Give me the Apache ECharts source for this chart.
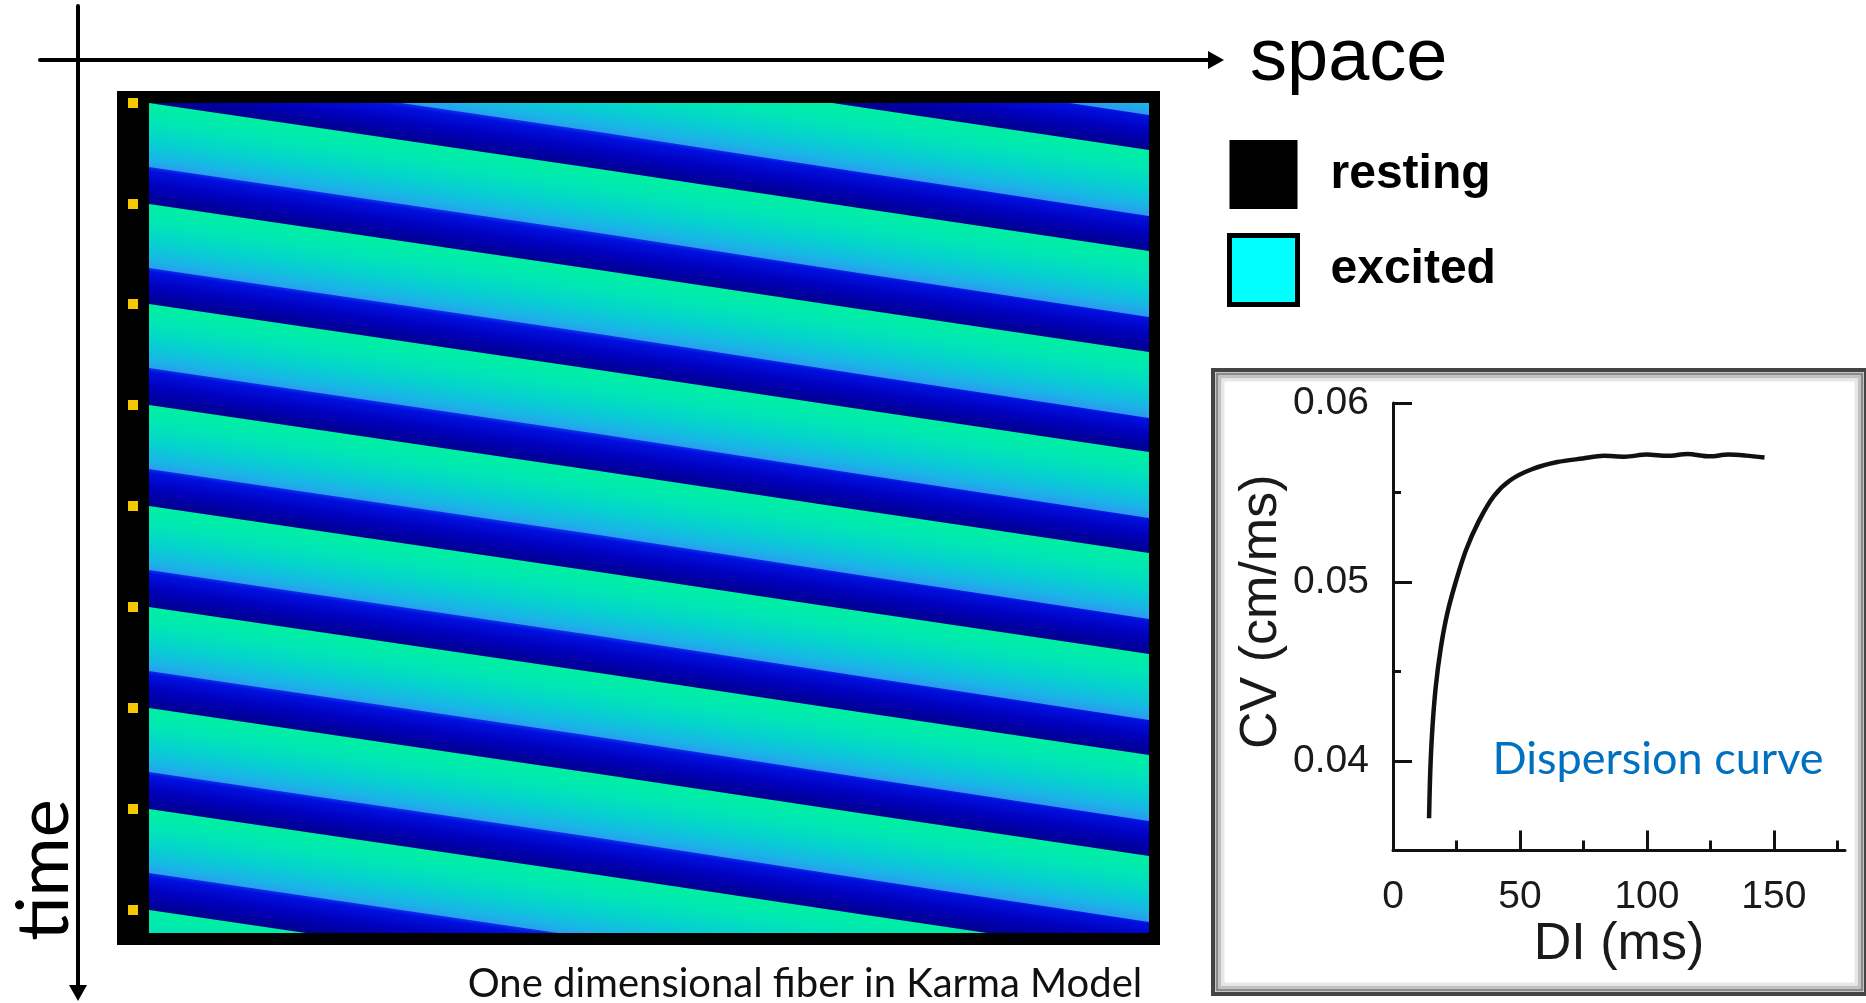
<!DOCTYPE html>
<html>
<head>
<meta charset="utf-8">
<title>One dimensional fiber in Karma Model</title>
<script src="https://cdn.jsdelivr.net/npm/echarts@6.0.0/dist/echarts.min.js"></script>
<style>
  html, body { margin: 0; padding: 0; background: #fff; }
  #chart { width: 1866px; height: 1003px; }
</style>
</head>
<body>
<div id="chart"></div>
<script>
// stimuli marked on the left edge of the fiber (time in plot rows)
const stimTimes = [0, 101, 201, 302, 403, 504, 605, 706, 807];
// wave fronts entering cell 0, two of them before the window starts
const beatTimes = [-202, -101, 0, 101, 201, 302, 403, 504, 605, 706, 807, 908];
// front delay along the fiber and how long each cell stays excited
const fiberCells = [0, 450, 710, 1000];
const frontDelay = [0, 66, 105, 148];
const excitedDur = [64, 64, 65, 66];

// dispersion curve
const diMs = [14.2, 14.7, 15.5, 16.8, 18.8, 21.3, 24.7, 28.8, 33.8, 39.7, 46.3, 54.7, 64.7, 74.7,
  83, 91.3, 100, 108, 116, 124.7, 132, 139, 146.3];
const cvCmMs = [0.0368, 0.0395, 0.0418, 0.0441, 0.0463, 0.0482, 0.0500, 0.0518, 0.0534, 0.0548,
  0.0557, 0.0563, 0.0567, 0.0569, 0.05705, 0.0570, 0.05712, 0.05705, 0.05715, 0.05702, 0.05712, 0.05706, 0.05695];
const diTicks = [0, 50, 100, 150];
const diMinorTicks = [25, 75, 125, 175];
const cvTicks = [0.04, 0.05, 0.06];
const cvMinorTicks = [0.045, 0.055];

const chart = echarts.init(document.getElementById("chart"));

const excitedStops = [
  { offset: 0, color: "#00F0A0" },
  { offset: 0.3, color: "#00E6B6" },
  { offset: 0.62, color: "#06D0D0" },
  { offset: 0.88, color: "#1AB4E8" },
  { offset: 1, color: "#2A9CEE" },
];
const restStops = [
  { offset: 0, color: "#0A30EA" },
  { offset: 0.1, color: "#0010E0" },
  { offset: 0.5, color: "#0000BE" },
  { offset: 1, color: "#00008E" },
];

function renderWave(params, api) {
  const t0 = api.value(0);
  const t1 = api.value(1);
  const front = fiberCells.map((s, i) => api.coord([s, t0 + frontDelay[i]]));
  const back = fiberCells.map((s, i) => api.coord([s, t0 + frontDelay[i] + excitedDur[i]]));
  const next = fiberCells.map((s, i) => api.coord([s, t1 + frontDelay[i]]));
  const a = front[0];
  const b = front[front.length - 1];
  const dx = b[0] - a[0];
  const dy = b[1] - a[1];
  const len = Math.hypot(dx, dy);
  const nx = -dy / len;
  const ny = dx / len;
  // gradient runs across the slanted band
  const grad = (p, h, stops) => {
    const d = h * (dx / len);
    return new echarts.graphic.LinearGradient(p[0], p[1], p[0] + nx * d, p[1] + ny * d, stops, true);
  };
  const restPts = back.map((p) => [p[0], p[1] - 1])
    .concat(next.slice().reverse().map((p) => [p[0], p[1] + 1]));
  const excPts = front.concat(back.slice().reverse());
  return {
    type: "group",
    children: [
      { type: "polygon", shape: { points: restPts }, style: { fill: grad(back[0], next[0][1] - back[0][1], restStops) } },
      { type: "polygon", shape: { points: excPts }, style: { fill: grad(front[0], back[0][1] - front[0][1], excitedStops) } },
    ],
  };
}

const hidden = { show: false };
const axisFont = { fontFamily: "Liberation Sans", color: "#1a1a1a" };

const option = {
  backgroundColor: "#fff",
  animation: false,
  legend: {
    orient: "vertical",
    left: 1227,
    top: 140,
    padding: 0,
    itemGap: 24,
    itemWidth: 68,
    itemHeight: 69,
    icon: "rect",
    selectedMode: false,
    textStyle: { fontFamily: "Liberation Sans", fontWeight: "bold", fontSize: 48, color: "#000", padding: [0, 0, 0, 28] },
    data: [
      { name: "resting", itemStyle: { color: "#000", opacity: 1 } },
      { name: "excited", itemStyle: { color: "#00FFFF", opacity: 1, borderColor: "#000", borderWidth: 5 } },
    ],
  },
  grid: [
    // 0: inner space-time plot
    { left: 149, top: 103, width: 1000, height: 830 },
    // 1: black frame with stimulus marks
    { left: 117, top: 91, width: 1043, height: 854, show: true, backgroundColor: "#000", borderWidth: 0 },
    // 2: dispersion curve
    { left: 1393, top: 403, width: 452, height: 447.5 },
    // 3: space / time arrows
    { left: 40, top: 6, width: 1176, height: 987 },
  ],
  xAxis: [
    { gridIndex: 0, type: "value", min: 0, max: 1000, show: false },
    { gridIndex: 1, type: "value", min: -32, max: 1011, show: false },
    {
      gridIndex: 2, type: "value", min: 0, max: 178, position: "bottom",
      axisLine: { onZero: false, lineStyle: { color: "#111", width: 3 } },
      axisTick: { inside: true, length: 20, customValues: [50, 100, 150], lineStyle: { color: "#111", width: 3 } },
      axisLabel: { customValues: diTicks, margin: 27, fontSize: 39, ...axisFont },
      splitLine: hidden,
      name: "DI (ms)", nameLocation: "middle", nameGap: 68,
      nameTextStyle: { fontSize: 52, ...axisFont },
    },
    {
      gridIndex: 2, type: "value", min: 0, max: 178, position: "bottom",
      axisLine: hidden,
      axisTick: { inside: true, length: 10, customValues: diMinorTicks, lineStyle: { color: "#111", width: 3 } },
      axisLabel: hidden, splitLine: hidden,
    },
    {
      gridIndex: 3, type: "value", min: 0, max: 1, position: "top", offset: -54,
      axisLine: { show: true, symbol: ["none", "triangle"], symbolSize: [18, 16], lineStyle: { color: "#000", width: 4 } },
      axisTick: hidden, axisLabel: hidden, splitLine: hidden,
      name: "space", nameLocation: "end", nameGap: 34,
      nameTextStyle: { fontFamily: "Liberation Sans", fontSize: 74, color: "#000", padding: [0, 0, 40, 0] },
    },
  ],
  yAxis: [
    { gridIndex: 0, type: "value", min: 0, max: 830, inverse: true, show: false },
    { gridIndex: 1, type: "value", min: -12, max: 842, inverse: true, show: false },
    {
      gridIndex: 2, type: "value", min: 0.035, max: 0.06, position: "left",
      axisLine: { show: true, onZero: false, lineStyle: { color: "#111", width: 3 } },
      axisTick: { show: true, inside: true, length: 19, customValues: cvTicks, lineStyle: { color: "#111", width: 3 } },
      axisLabel: { customValues: cvTicks, margin: 24, fontSize: 39, formatter: (v) => v.toFixed(2), ...axisFont },
      splitLine: hidden,
      name: "CV (cm/ms)", nameLocation: "middle", nameGap: 105,
      nameTextStyle: { fontSize: 52, padding: [0, 0, 0, 30], ...axisFont },
    },
    {
      gridIndex: 2, type: "value", min: 0.035, max: 0.06, position: "left",
      axisLine: hidden,
      axisTick: { show: true, inside: true, length: 8, customValues: cvMinorTicks, lineStyle: { color: "#111", width: 3 } },
      axisLabel: hidden, splitLine: hidden,
    },
    {
      gridIndex: 3, type: "value", min: 0, max: 1, inverse: true, position: "left", offset: -38,
      axisLine: { show: true, symbol: ["triangle", "none"], symbolSize: [18, 16], lineStyle: { color: "#000", width: 4 } },
      axisTick: hidden, axisLabel: hidden, splitLine: hidden,
    },
  ],
  graphic: [
    {
      type: "group",
      z: -10,
      children: [
        { type: "rect", shape: { x: 1213, y: 370, width: 653, height: 624 }, style: { fill: "#fff", stroke: "#444", lineWidth: 4 } },
        { type: "rect", shape: { x: 1217, y: 374, width: 645, height: 616 }, style: { fill: "none", stroke: "#8a8a8a", lineWidth: 3 } },
        { type: "rect", shape: { x: 1220, y: 377, width: 639, height: 610 }, style: { fill: "none", stroke: "#c2c2c2", lineWidth: 3 } },
        { type: "rect", shape: { x: 1223, y: 380, width: 633, height: 604 }, style: { fill: "none", stroke: "#e8e8e8", lineWidth: 3 } },
      ],
    },
    {
      type: "text", x: 45, y: 870, rotation: Math.PI / 2, z: 10,
      style: { text: "time", fontFamily: "Lato", fontSize: 72, fill: "#000", align: "center", verticalAlign: "middle" },
    },
    {
      type: "text", x: 805, y: 984, z: 10,
      style: { text: "One dimensional fiber in Karma Model", fontFamily: "Lato", fontSize: 40, fill: "#111", align: "center", verticalAlign: "middle" },
    },
    {
      type: "text", x: 1658, y: 759, z: 10,
      style: { text: "Dispersion curve", fontFamily: "Lato", fontSize: 45, fill: "#0070C0", align: "center", verticalAlign: "middle" },
    },
  ],
  series: [
    {
      type: "custom",
      xAxisIndex: 0,
      yAxisIndex: 0,
      clip: true,
      renderItem: renderWave,
      data: beatTimes.slice(0, -1).map((t, i) => [t, beatTimes[i + 1]]),
    },
    {
      type: "scatter",
      xAxisIndex: 1,
      yAxisIndex: 1,
      symbol: "rect",
      symbolSize: 10,
      itemStyle: { color: "#F5C800", opacity: 1 },
      data: stimTimes.map((t) => [-16, t]),
      z: 5,
    },
    { name: "resting", type: "scatter", xAxisIndex: 1, yAxisIndex: 1, itemStyle: { color: "#000", opacity: 1 }, data: [] },
    { name: "excited", type: "scatter", xAxisIndex: 1, yAxisIndex: 1, itemStyle: { color: "#00FFFF", opacity: 1 }, data: [] },
    {
      type: "line",
      xAxisIndex: 2,
      yAxisIndex: 2,
      showSymbol: false,
      smooth: 0.3,
      lineStyle: { color: "#111", width: 4.5 },
      data: diMs.map((d, i) => [d, cvCmMs[i]]),
    },
  ],
};

chart.setOption(option);
</script>
</body>
</html>
